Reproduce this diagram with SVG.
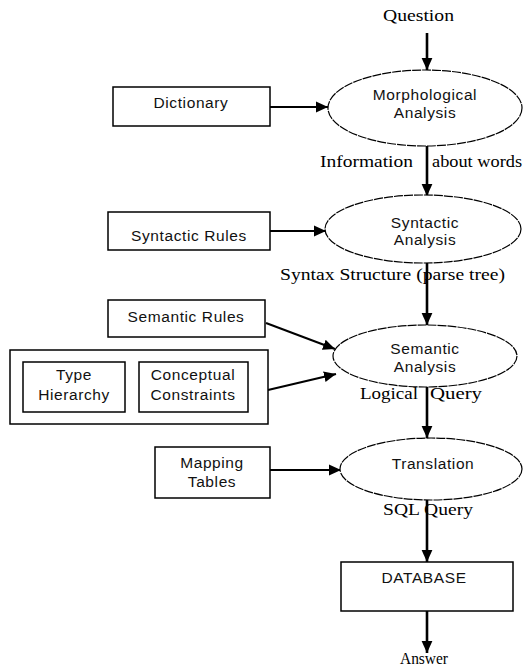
<svg xmlns="http://www.w3.org/2000/svg" width="523" height="667" viewBox="0 0 523 667">
<style>
.box{fill:#fff;stroke:#000;stroke-width:1.5}
.ell{fill:#fff;stroke:#000;stroke-width:1.2;stroke-dasharray:9 1}
.t{font-family:"Liberation Sans",Arial,sans-serif;font-size:15.5px;fill:#111;text-anchor:middle;letter-spacing:0.6px}
.lb{font-family:"Liberation Serif","Times New Roman",serif;font-size:16px;fill:#000}
.c{stroke:#000;fill:none}
.v{stroke-width:2.6}
.h{stroke-width:2}
</style>
<defs>
<marker id="ah" markerUnits="userSpaceOnUse" markerWidth="12" markerHeight="12" viewBox="0 0 10 10" refX="10" refY="5" orient="auto">
<path d="M0,0.5 L10,5 L0,9.5 Z" fill="#000"/>
</marker>
</defs>
<g id="connectors">
<line class="c v" x1="427" y1="33" x2="427" y2="70" marker-end="url(#ah)"/>
<line class="c h" x1="270" y1="107" x2="328" y2="107" marker-end="url(#ah)"/>
<line class="c v" x1="427" y1="146" x2="427" y2="196" marker-end="url(#ah)"/>
<line class="c h" x1="270" y1="231" x2="326" y2="231" marker-end="url(#ah)"/>
<line class="c v" x1="427" y1="263" x2="427" y2="325" marker-end="url(#ah)"/>
<line class="c h" x1="266" y1="323" x2="335" y2="349" marker-end="url(#ah)"/>
<line class="c h" x1="268" y1="390" x2="336" y2="374" marker-end="url(#ah)"/>
<line class="c h" x1="125" y1="387" x2="139" y2="387" marker-end="url(#ah)"/>
<line class="c v" x1="427" y1="387" x2="427" y2="438" marker-end="url(#ah)"/>
<line class="c h" x1="270" y1="470" x2="341" y2="470" marker-end="url(#ah)"/>
<line class="c v" x1="427" y1="500" x2="427" y2="562" marker-end="url(#ah)"/>
<line class="c v" x1="427" y1="611" x2="427" y2="653" marker-end="url(#ah)"/>
</g>
<g id="question"><text class="lb" x="383" y="21" textLength="71" lengthAdjust="spacingAndGlyphs">Question</text></g>
<g id="dictionary">
<rect class="box" x="113" y="87" width="157" height="39"/>
<text class="t" x="191" y="108">Dictionary</text>
</g>
<g id="morphological">
<ellipse class="ell" cx="425" cy="108" rx="97" ry="38"/>
<text class="t" x="425" y="100">Morphological</text>
<text class="t" x="425" y="118">Analysis</text>
</g>
<g id="label-info">
<text class="lb" x="320" y="167" textLength="93" lengthAdjust="spacingAndGlyphs">Information</text>
<text class="lb" x="432" y="167" textLength="90" lengthAdjust="spacingAndGlyphs">about words</text>
</g>
<g id="syntactic-rules">
<rect class="box" x="108" y="212" width="162" height="38"/>
<text class="t" x="189" y="241">Syntactic Rules</text>
</g>
<g id="syntactic">
<ellipse class="ell" cx="423" cy="229" rx="98" ry="34"/>
<text class="t" x="425" y="228">Syntactic</text>
<text class="t" x="425" y="245">Analysis</text>
</g>
<g id="label-syntax"><text class="lb" x="280" y="280" textLength="225" lengthAdjust="spacingAndGlyphs">Syntax Structure  (parse tree)</text></g>
<g id="semantic-rules">
<rect class="box" x="108" y="300" width="157" height="37"/>
<text class="t" x="186" y="322">Semantic Rules</text>
</g>
<g id="constraints-group">
<rect class="box" x="10" y="350" width="258" height="74"/>
</g>
<g id="type-hierarchy">
<rect class="box" x="23" y="362" width="102" height="50"/>
<text class="t" x="74" y="380">Type</text>
<text class="t" x="74" y="400">Hierarchy</text>
</g>
<g id="conceptual-constraints">
<rect class="box" x="139" y="362" width="109" height="50"/>
<text class="t" x="193" y="380">Conceptual</text>
<text class="t" x="193" y="400">Constraints</text>
</g>
<g id="semantic">
<ellipse class="ell" cx="425" cy="356" rx="92" ry="31"/>
<text class="t" x="425" y="354">Semantic</text>
<text class="t" x="425" y="372">Analysis</text>
</g>
<g id="label-logical">
<text class="lb" x="360" y="399" textLength="58" lengthAdjust="spacingAndGlyphs">Logical</text>
<text class="lb" x="430" y="399" textLength="52" lengthAdjust="spacingAndGlyphs">Query</text>
</g>
<g id="mapping-tables">
<rect class="box" x="155" y="447" width="115" height="51"/>
<text class="t" x="212" y="468">Mapping</text>
<text class="t" x="212" y="487">Tables</text>
</g>
<g id="translation">
<ellipse class="ell" cx="431" cy="469" rx="91" ry="31"/>
<text class="t" x="433" y="469">Translation</text>
</g>
<g id="label-sql"><text class="lb" x="383" y="515" textLength="90" lengthAdjust="spacingAndGlyphs">SQL Query</text></g>
<g id="database">
<rect class="box" x="341" y="562" width="172" height="49"/>
<text class="t" x="424" y="583">DATABASE</text>
</g>
<g id="answer"><text class="lb" x="400" y="664" textLength="48" lengthAdjust="spacingAndGlyphs">Answer</text></g>
</svg>
